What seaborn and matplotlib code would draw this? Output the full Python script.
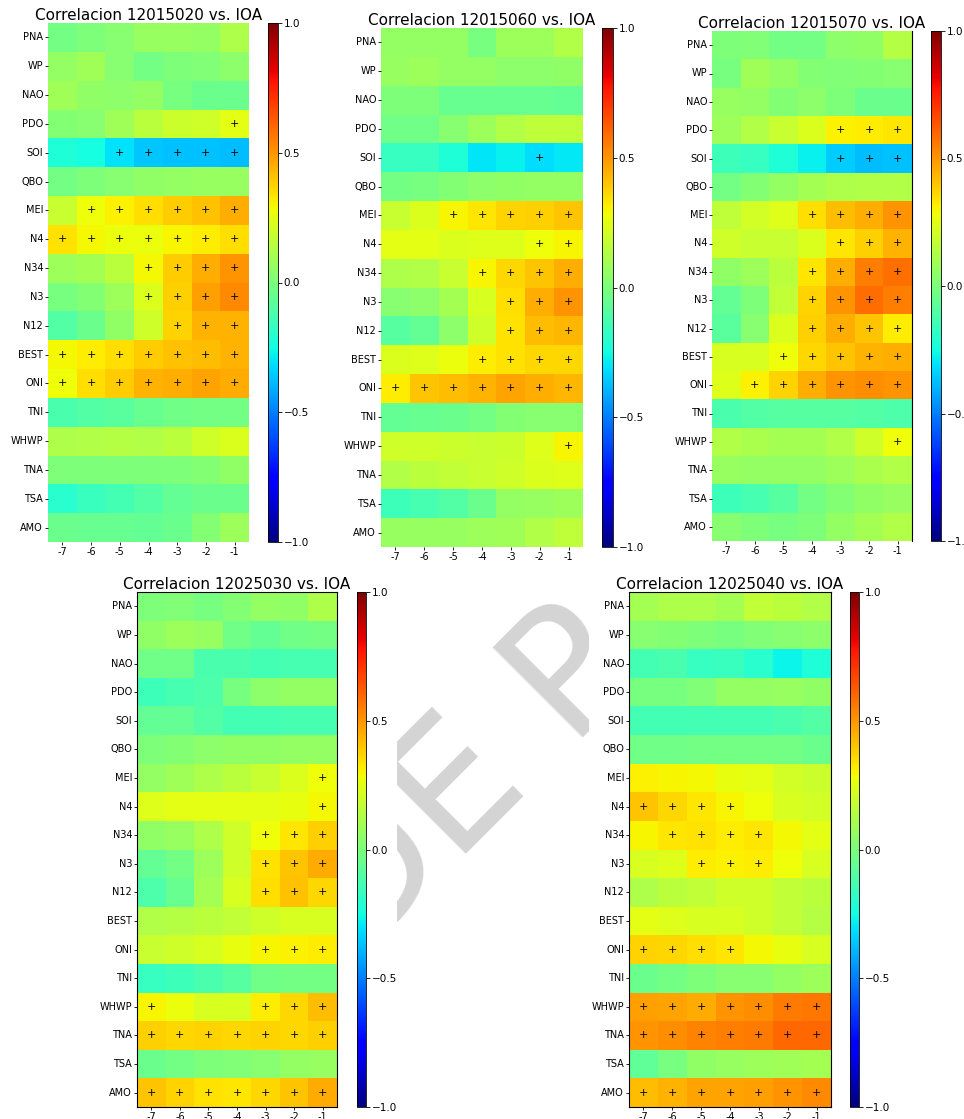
import numpy as np
import pandas as pd
import matplotlib
matplotlib.use("Agg")
import matplotlib.pyplot as plt
import seaborn as sns
from matplotlib.patches import Rectangle

indices = ["PNA", "WP", "NAO", "PDO", "SOI", "QBO", "MEI", "N4", "N34", "N3",
           "N12", "BEST", "ONI", "TNI", "WHWP", "TNA", "TSA", "AMO"]
lags = ["-7", "-6", "-5", "-4", "-3", "-2", "-1"]
stations = ["12015020", "12015060", "12015070", "12025030", "12025040"]

corr_12015020 = [
    [-0.02, 0.00, 0.03, 0.07, 0.07, 0.06, 0.12],
    [0.06, 0.09, 0.03, -0.02, 0.00, 0.01, 0.04],
    [0.09, 0.05, 0.04, 0.06, -0.01, -0.04, -0.04],
    [0.02, 0.03, 0.09, 0.15, 0.19, 0.20, 0.25],
    [-0.22, -0.25, -0.31, -0.36, -0.37, -0.37, -0.38],
    [-0.02, 0.00, 0.03, 0.05, 0.06, 0.07, 0.07],
    [0.18, 0.28, 0.31, 0.35, 0.39, 0.41, 0.45],
    [0.34, 0.29, 0.27, 0.27, 0.30, 0.32, 0.35],
    [0.08, 0.10, 0.15, 0.29, 0.39, 0.45, 0.50],
    [-0.01, 0.02, 0.08, 0.23, 0.38, 0.48, 0.53],
    [-0.10, -0.04, 0.05, 0.20, 0.37, 0.44, 0.44],
    [0.29, 0.32, 0.35, 0.39, 0.41, 0.42, 0.44],
    [0.28, 0.35, 0.39, 0.44, 0.45, 0.47, 0.46],
    [-0.12, -0.10, -0.08, -0.05, -0.03, -0.02, -0.02],
    [0.12, 0.13, 0.14, 0.13, 0.15, 0.20, 0.23],
    [0.00, 0.00, 0.00, 0.00, 0.00, 0.02, 0.05],
    [-0.20, -0.16, -0.14, -0.10, -0.06, -0.04, -0.04],
    [-0.04, -0.05, -0.05, -0.06, -0.04, 0.02, 0.08],
]
sig_12015020 = ["0000000", "0000000", "0000000", "0000001", "0011111", "0000000",
                "0111111", "1111111", "0001111", "0001111", "0000111", "1111111",
                "1111111", "0000000", "0000000", "0000000", "0000000", "0000000"]

corr_12015060 = [
    [0.06, 0.06, 0.06, -0.01, 0.08, 0.08, 0.13],
    [0.07, 0.08, 0.06, 0.06, 0.04, 0.04, 0.05],
    [0.00, 0.00, -0.05, -0.05, -0.05, -0.05, -0.06],
    [-0.03, -0.03, 0.03, 0.08, 0.13, 0.16, 0.16],
    [-0.17, -0.17, -0.22, -0.30, -0.28, -0.32, -0.29],
    [-0.02, -0.01, 0.02, 0.04, 0.05, 0.06, 0.06],
    [0.18, 0.23, 0.30, 0.33, 0.37, 0.38, 0.40],
    [0.25, 0.25, 0.23, 0.24, 0.24, 0.28, 0.30],
    [0.12, 0.13, 0.18, 0.30, 0.36, 0.40, 0.45],
    [0.03, 0.04, 0.10, 0.22, 0.35, 0.45, 0.50],
    [-0.09, -0.06, 0.04, 0.20, 0.34, 0.42, 0.43],
    [0.23, 0.24, 0.27, 0.32, 0.34, 0.36, 0.36],
    [0.32, 0.40, 0.42, 0.44, 0.47, 0.45, 0.43],
    [-0.06, -0.05, -0.04, -0.02, 0.02, 0.03, 0.03],
    [0.20, 0.20, 0.19, 0.18, 0.19, 0.24, 0.30],
    [0.13, 0.15, 0.17, 0.18, 0.20, 0.23, 0.24],
    [-0.15, -0.13, -0.10, -0.04, 0.06, 0.07, 0.08],
    [0.07, 0.07, 0.07, 0.08, 0.09, 0.13, 0.16],
]
sig_12015060 = ["0000000", "0000000", "0000000", "0000000", "0000010", "0000000",
                "0011111", "0000011", "0001111", "0000111", "0000111", "0001111",
                "1111111", "0000000", "0000001", "0000000", "0000000", "0000000"]

corr_12015070 = [
    [0.00, 0.01, -0.02, -0.02, 0.04, 0.05, 0.14],
    [-0.01, 0.09, 0.06, 0.02, 0.01, 0.02, 0.03],
    [0.07, 0.06, 0.02, 0.04, 0.00, -0.04, -0.04],
    [0.08, 0.13, 0.18, 0.23, 0.31, 0.32, 0.33],
    [-0.15, -0.17, -0.22, -0.28, -0.35, -0.38, -0.37],
    [-0.02, 0.02, 0.06, 0.10, 0.12, 0.13, 0.13],
    [0.16, 0.21, 0.24, 0.35, 0.42, 0.45, 0.50],
    [0.20, 0.18, 0.18, 0.23, 0.33, 0.38, 0.44],
    [0.05, 0.08, 0.15, 0.33, 0.45, 0.55, 0.58],
    [-0.06, 0.00, 0.17, 0.37, 0.50, 0.59, 0.55],
    [-0.08, 0.03, 0.23, 0.38, 0.45, 0.40, 0.32],
    [0.22, 0.22, 0.28, 0.36, 0.40, 0.44, 0.45],
    [0.24, 0.31, 0.37, 0.45, 0.50, 0.52, 0.50],
    [-0.12, -0.10, -0.09, -0.09, -0.09, -0.10, -0.11],
    [0.13, 0.11, 0.10, 0.10, 0.13, 0.20, 0.28],
    [0.07, 0.06, 0.06, 0.06, 0.08, 0.11, 0.13],
    [-0.15, -0.13, -0.09, -0.02, 0.02, 0.05, 0.07],
    [0.03, 0.00, -0.01, 0.00, 0.06, 0.10, 0.13],
]
sig_12015070 = ["0000000", "0000000", "0000000", "0000111", "0000111", "0000000",
                "0001111", "0000111", "0001111", "0001111", "0001111", "0011111",
                "0111111", "0000000", "0000001", "0000000", "0000000", "0000000"]

corr_12025030 = [
    [0.00, 0.01, -0.01, 0.02, 0.06, 0.05, 0.12],
    [0.05, 0.08, 0.07, -0.03, -0.06, -0.03, -0.02],
    [-0.03, -0.03, -0.12, -0.12, -0.14, -0.13, -0.13],
    [-0.15, -0.13, -0.11, -0.01, 0.04, 0.06, 0.06],
    [-0.06, -0.06, -0.10, -0.14, -0.14, -0.13, -0.13],
    [0.00, 0.02, 0.04, 0.05, 0.05, 0.06, 0.06],
    [0.06, 0.09, 0.12, 0.15, 0.18, 0.23, 0.28],
    [0.24, 0.25, 0.25, 0.25, 0.25, 0.26, 0.29],
    [0.05, 0.07, 0.12, 0.20, 0.28, 0.33, 0.38],
    [-0.06, -0.02, 0.08, 0.20, 0.34, 0.40, 0.46],
    [-0.11, -0.05, 0.10, 0.22, 0.35, 0.41, 0.36],
    [0.13, 0.14, 0.15, 0.17, 0.20, 0.22, 0.22],
    [0.18, 0.20, 0.22, 0.26, 0.30, 0.31, 0.32],
    [-0.17, -0.15, -0.12, -0.09, -0.03, -0.02, -0.02],
    [0.30, 0.27, 0.22, 0.22, 0.32, 0.36, 0.42],
    [0.38, 0.36, 0.37, 0.36, 0.37, 0.36, 0.38],
    [-0.04, -0.02, 0.00, 0.01, 0.03, 0.06, 0.07],
    [0.40, 0.37, 0.34, 0.33, 0.36, 0.40, 0.46],
]
sig_12025030 = ["0000000", "0000000", "0000000", "0000000", "0000000", "0000000",
                "0000001", "0000001", "0000111", "0000111", "0000111", "0000000",
                "0000111", "0000000", "1000111", "1111111", "0000000", "1111111"]

corr_12025040 = [
    [0.10, 0.12, 0.12, 0.10, 0.17, 0.15, 0.13],
    [0.03, 0.02, 0.00, -0.01, 0.01, 0.03, 0.04],
    [-0.14, -0.12, -0.17, -0.16, -0.20, -0.27, -0.22],
    [-0.01, -0.01, 0.01, 0.06, 0.06, 0.07, 0.05],
    [-0.14, -0.14, -0.14, -0.14, -0.14, -0.12, -0.10],
    [-0.03, -0.03, -0.02, -0.02, -0.02, -0.02, -0.04],
    [0.31, 0.30, 0.29, 0.26, 0.25, 0.21, 0.19],
    [0.40, 0.36, 0.33, 0.30, 0.28, 0.22, 0.21],
    [0.30, 0.33, 0.34, 0.32, 0.33, 0.29, 0.25],
    [0.22, 0.24, 0.32, 0.31, 0.32, 0.28, 0.22],
    [0.12, 0.15, 0.17, 0.20, 0.20, 0.17, 0.15],
    [0.25, 0.24, 0.22, 0.22, 0.20, 0.17, 0.14],
    [0.37, 0.36, 0.35, 0.33, 0.29, 0.26, 0.22],
    [-0.04, -0.02, 0.00, 0.03, 0.03, 0.06, 0.08],
    [0.48, 0.47, 0.46, 0.50, 0.52, 0.56, 0.57],
    [0.50, 0.52, 0.54, 0.55, 0.56, 0.60, 0.60],
    [-0.07, -0.01, 0.05, 0.07, 0.08, 0.09, 0.10],
    [0.42, 0.44, 0.47, 0.47, 0.48, 0.50, 0.53],
]
sig_12025040 = ["0000000", "0000000", "0000000", "0000000", "0000000", "0000000",
                "0000000", "1111000", "0111100", "0011100", "0000000", "0000000",
                "1111000", "0000000", "1111111", "1111111", "0000000", "1111111"]

panels = [
    (stations[0], corr_12015020, sig_12015020),
    (stations[1], corr_12015060, sig_12015060),
    (stations[2], corr_12015070, sig_12015070),
    (stations[3], corr_12025030, sig_12025030),
    (stations[4], corr_12025040, sig_12025040),
]

W, H = 964, 1119
fig = plt.figure(figsize=(W / 100, H / 100), dpi=100)
fig.patch.set_facecolor("white")


def fig_rect(l, t, r, b):
    return [l / W, 1 - b / H, (r - l) / W, (b - t) / H]


# pixel boxes: heatmap (l, t, r, b), colorbar (l, t, r, b)
layout = [
    ((48, 23, 249, 542), (268, 23, 278, 542)),
    ((381, 28, 583, 547), (602, 28, 613, 547)),
    ((712, 31, 912, 541), (931, 31, 941, 541)),
    ((137, 592, 337, 1107), (357, 592, 366, 1107)),
    ((629, 592, 831, 1107), (850, 592, 859, 1107)),
]

# watermark behind the panel images (only visible in the gaps between them)
wm_regions = [(397, 562, 589, 1119), (640, 470, 676, 568)]
for (l, t, r, b) in wm_regions:
    txt = fig.text(360 / W, 1 - 960 / H, "DE P", fontsize=125, color="#d4d4d4",
                   rotation=45, rotation_mode="anchor", ha="left", va="baseline",
                   zorder=-5)
    clip = Rectangle((l / W, 1 - b / H), (r - l) / W, (b - t) / H,
                     transform=fig.transFigure, facecolor="none", edgecolor="none")
    txt.set_clip_path(clip)

for i, (name, corr, sig) in enumerate(panels):
    hbox, cbox = layout[i]
    ax = fig.add_axes(fig_rect(*hbox))
    cax = fig.add_axes(fig_rect(*cbox))
    df = pd.DataFrame(corr, index=indices, columns=lags)
    annot = np.array([["+" if c == "1" else "" for c in row] for row in sig])
    sns.heatmap(df, ax=ax, cmap="jet", vmin=-1, vmax=1, cbar_ax=cax,
                annot=annot, fmt="", annot_kws={"color": "black", "fontsize": 8},
                xticklabels=lags, yticklabels=indices)
    ax.set_title(f"Correlacion {name} vs. IOA", fontsize=11, pad=1)
    ax.tick_params(axis="both", length=2, width=0.6, labelsize=7, pad=1.5)
    ax.set_yticklabels(indices, rotation=0)
    ax.set_xticklabels(lags, rotation=0)
    if i == 2:
        ax.spines["right"].set_visible(True)
        ax.spines["right"].set_linewidth(0.8)
    if i in (3, 4):
        for s in ax.spines.values():
            s.set_visible(True)
            s.set_linewidth(0.8)
    cb = ax.collections[0].colorbar
    cb.set_ticks([-1, -0.5, 0, 0.5, 1])
    cb.set_ticklabels(["\u22121.0", "\u22120.5", "0.0", "0.5", "1.0"])
    cax.tick_params(labelsize=7.5, length=3, width=0.6, pad=1)
    cb.outline.set_linewidth(0.6)

fig.savefig("out.png", dpi=100, facecolor="white")
